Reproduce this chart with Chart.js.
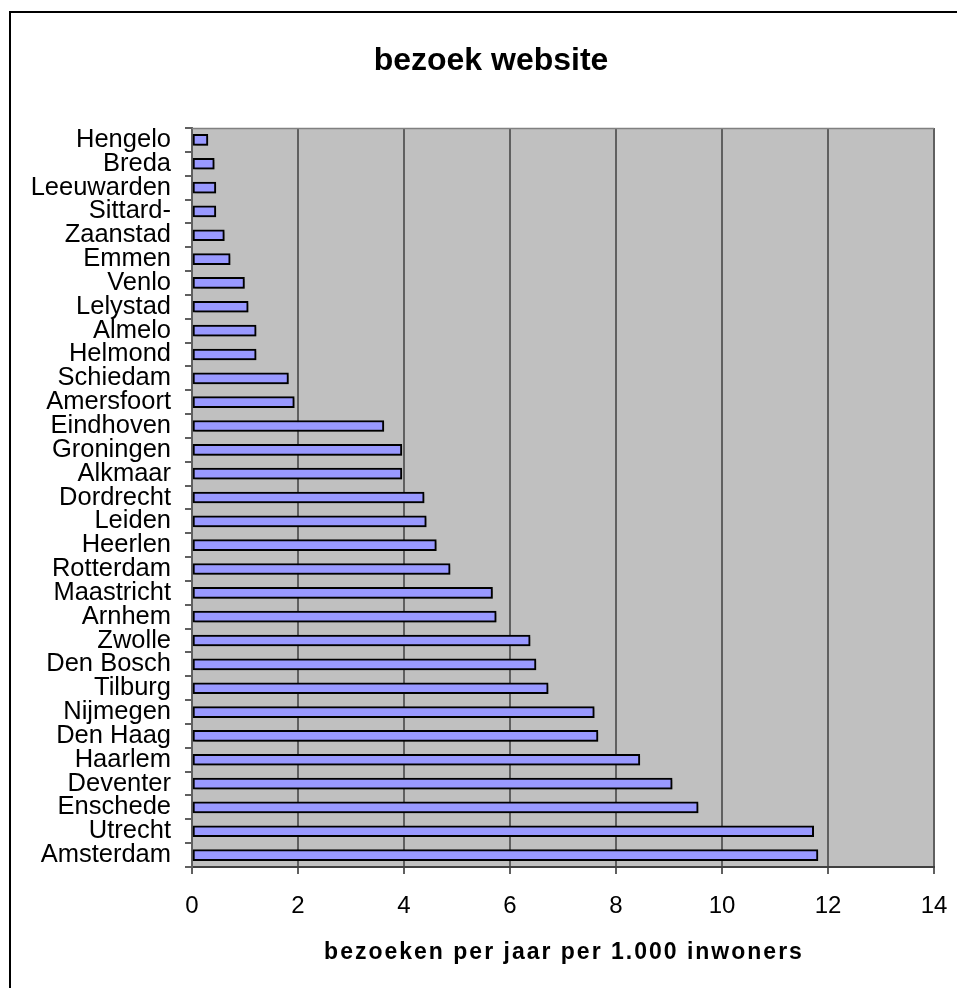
<!DOCTYPE html>
<html>
<head>
<meta charset="utf-8">
<script src="https://cdn.jsdelivr.net/npm/chart.js@4/dist/chart.umd.min.js"></script>
<style>
html,body{margin:0;padding:0;background:#fff;}
canvas{display:block;}
</style>
</head>
<body>
<canvas id="c" width="957" height="988"></canvas>
<script>
const cities = ["Hengelo","Breda","Leeuwarden","Sittard-","Zaanstad","Emmen","Venlo","Lelystad","Almelo","Helmond","Schiedam","Amersfoort","Eindhoven","Groningen","Alkmaar","Dordrecht","Leiden","Heerlen","Rotterdam","Maastricht","Arnhem","Zwolle","Den Bosch","Tilburg","Nijmegen","Den Haag","Haarlem","Deventer","Enschede","Utrecht","Amsterdam"];
const visits = [0.30,0.42,0.45,0.45,0.61,0.72,0.99,1.06,1.21,1.21,1.82,1.93,3.62,3.96,3.96,4.38,4.42,4.61,4.87,5.67,5.74,6.38,6.49,6.72,7.59,7.66,8.45,9.06,9.55,11.73,11.81];
const xTicks = [0,2,4,6,8,10,12,14];
const chartTitle = "bezoek website";
const xTitle = "bezoeken per jaar per 1.000 inwoners";

const FONT = "'Liberation Sans', Arial, Helvetica, sans-serif";

const decor = {
  id: 'decor',
  beforeDraw(chart) {
    const {ctx, chartArea: a} = chart;
    ctx.save();
    ctx.fillStyle = '#ffffff';
    ctx.fillRect(0, 0, chart.width, chart.height);
    ctx.strokeStyle = '#000';
    ctx.lineWidth = 2;
    ctx.strokeRect(10, 12, 2000, 2000);
    ctx.fillStyle = '#C0C0C0';
    ctx.fillRect(a.left, a.top, a.right - a.left, a.bottom - a.top);
    ctx.restore();
  },
  afterDraw(chart) {
    const {ctx, chartArea: a} = chart;
    ctx.save();
    ctx.strokeStyle = '#808080';
    ctx.lineWidth = 1.5;
    ctx.beginPath();
    ctx.moveTo(a.left, a.top + 0.5);
    ctx.lineTo(a.right, a.top + 0.5);
    ctx.stroke();
    ctx.fillStyle = '#000';
    ctx.textAlign = 'center';
    ctx.textBaseline = 'alphabetic';
    ctx.font = "bold 32px " + FONT;
    ctx.fillText(chartTitle, 491, 70);
    ctx.font = "bold 23px " + FONT;
    try { ctx.letterSpacing = '2px'; } catch(e) {}
    ctx.fillText(xTitle, (a.left + a.right) / 2 + 1, 959);
    ctx.restore();
  },
  beforeDatasetsDraw(chart) {
    const ctx = chart.ctx;
    ctx.save();
    ctx.shadowColor = 'rgba(0,0,0,0.18)';
    ctx.shadowOffsetX = 2;
    ctx.shadowOffsetY = 2;
    ctx.shadowBlur = 0;
  },
  afterDatasetsDraw(chart) {
    chart.ctx.restore();
  }
};

new Chart(document.getElementById('c'), {
  type: 'bar',
  data: {
    labels: cities,
    datasets: [{
      data: visits,
      backgroundColor: '#9999FF',
      borderColor: '#000000',
      borderWidth: 2,
      borderSkipped: false,
      barThickness: 11
    }]
  },
  options: {
    indexAxis: 'y',
    responsive: false,
    animation: false,
    devicePixelRatio: 1,
    layout: { padding: { left: 0, right: 23, top: 128, bottom: 0 } },
    plugins: {
      legend: { display: false },
      tooltip: { enabled: false },
      title: { display: false }
    },
    scales: {
      x: {
        type: 'linear',
        min: 0,
        max: 14,
        afterBuildTicks(scale) { scale.ticks = xTicks.map(v => ({ value: v })); },
        afterFit(scale) { scale.height = 121; scale.paddingLeft = 0; scale.paddingRight = 0; },
        ticks: {
          color: '#000',
          font: { family: FONT, size: 24 },
          padding: 18,
          maxRotation: 0
        },
        grid: {
          color: '#606060',
          lineWidth: 2,
          tickLength: 7,
          drawTicks: true
        },
        border: { color: '#404040', width: 2 }
      },
      y: {
        type: 'category',
        afterFit(scale) { scale.width = 192; scale.paddingTop = 0; scale.paddingBottom = 0; },
        ticks: {
          color: '#000',
          font: { family: FONT, size: 25.5, lineHeight: 1 },
          padding: 14,
          autoSkip: false
        },
        grid: {
          offset: true,
          drawOnChartArea: false,
          drawTicks: true,
          tickLength: 7,
          color: '#606060',
          lineWidth: 2
        },
        border: { color: '#606060', width: 2 }
      }
    }
  },
  plugins: [decor]
});
</script>
</body>
</html>
